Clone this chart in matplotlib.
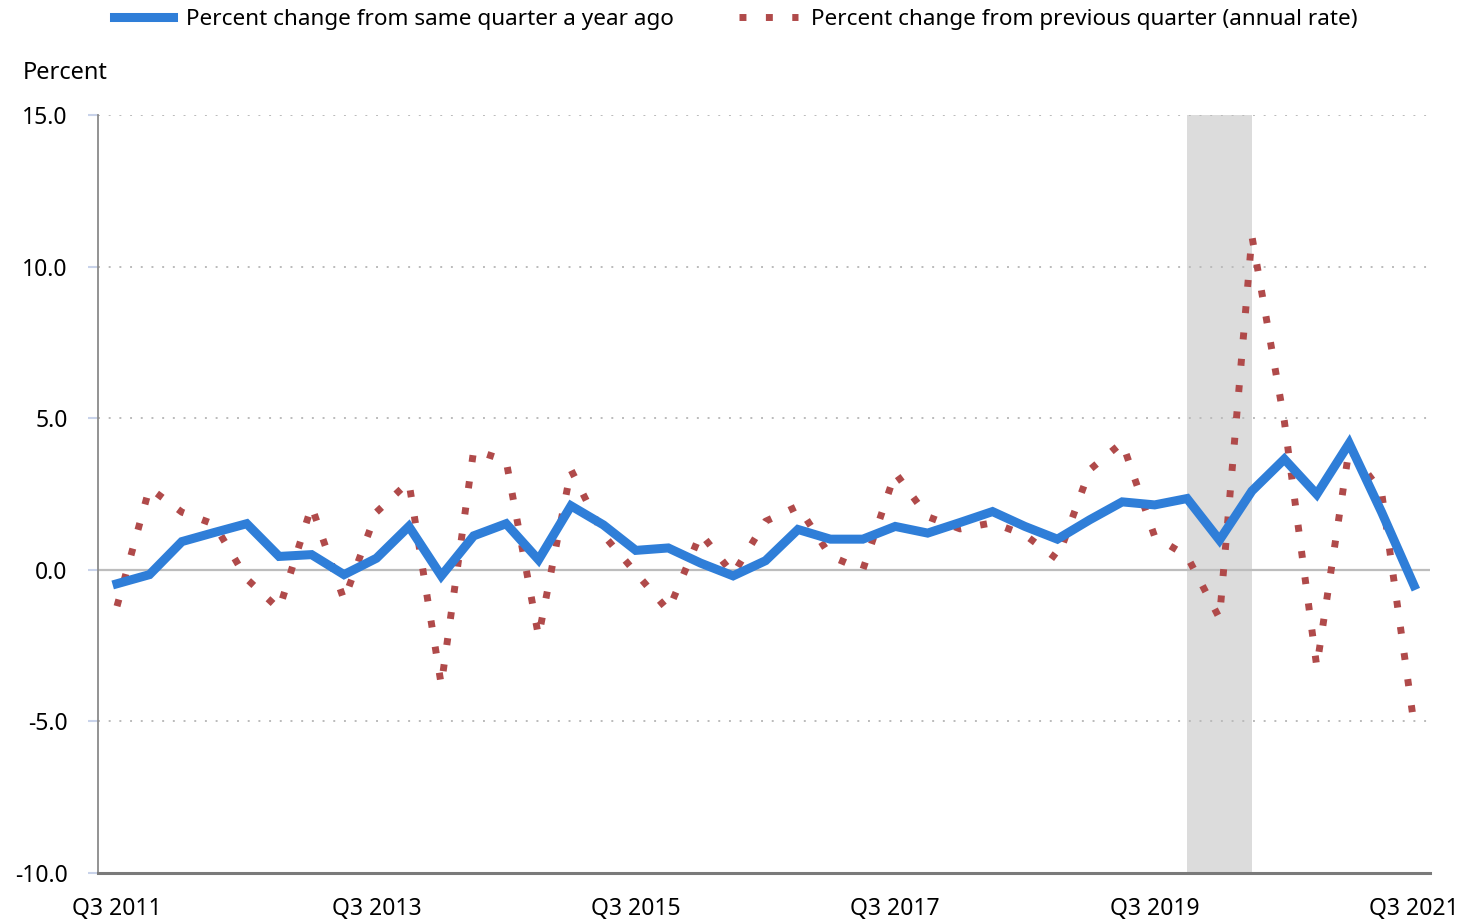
import numpy as np
import matplotlib as mlp
mlp.use('Agg')
import matplotlib.pyplot as plt

mlp.rcParams['font.family'] = ['Noto Sans', 'DejaVu Sans']

# quarters Q3 2011 .. Q3 2021
quarters = ['Q%d %d' % ((q % 4) + 1, 2011 + q // 4) for q in range(2, 43)]
yoy = [-0.46, -0.16, 0.93, 1.23, 1.52, 0.44, 0.50, -0.16, 0.38, 1.43,
       -0.20, 1.12, 1.52, 0.33, 2.11, 1.48, 0.64, 0.72, 0.22, -0.20,
       0.30, 1.33, 1.01, 1.01, 1.43, 1.21, 1.56, 1.92, 1.43, 1.01,
       1.65, 2.24, 2.14, 2.35, 0.98, 2.60, 3.65, 2.49, 4.17, 1.90, -0.52]
qoq = [-1.2, 2.7, 1.9, 1.5, -0.3, -1.3, 2.1, -1.0, 1.9, 2.9,
       -3.8, 3.95, 3.6, -2.2, 3.3, 1.15, -0.1, -1.35, 1.2, -0.15,
       1.6, 2.1, 0.45, 0.0, 3.2, 1.75, 1.35, 1.55, 1.15, 0.35,
       3.3, 4.2, 1.1, 0.45, -1.6, 11.0, 4.9, -3.2, 4.0, 2.55, -5.1]
recession = ['Q4 2019', 'Q2 2020']
yticks = [15, 10, 5, 0, -5, -10]
names = ['Percent change from same quarter a year ago',
         'Percent change from previous quarter (annual rate)']

xs = np.arange(len(quarters))
blue = '#2F7ED8'
red = '#B04A4A'

fig = plt.figure(figsize=(14.63, 9.23), dpi=100)
ax = fig.add_axes([0.067, 0.0542, 0.9104, 0.8212])

r0, r1 = quarters.index(recession[0]), quarters.index(recession[1])
ax.axvspan(r0, r1, color='#DCDCDC', lw=0, zorder=0)

for y in yticks:
    if y == 0:
        ax.axhline(y, color='#BDBDBD', lw=1.6, zorder=1)
    elif y != -10:
        ax.axhline(y, color='#BBBBBB', lw=1.4, dashes=(1, 4.5), zorder=1)

l2, = ax.plot(xs, qoq, color=red, lw=5, dashes=(1, 2.8), dash_capstyle='butt', zorder=3)
l1, = ax.plot(xs, yoy, color=blue, lw=6.5, solid_joinstyle='miter', zorder=4)

ax.set_xlim(-0.586, 40.49)
ax.set_ylim(-10, 15)
ax.set_yticks(yticks)
ax.set_yticklabels(['%.1f' % y for y in yticks])
ax.set_xticks(xs[::8])
ax.set_xticklabels(quarters[::8])
ax.tick_params(axis='y', length=7, width=1.5, color='#C9D3EA', labelsize=16.5, pad=15)
ax.tick_params(axis='x', length=0, labelsize=16.5, pad=17)

for s in ['top', 'right']:
    ax.spines[s].set_visible(False)
ax.spines['left'].set_color('#8A8A8A')
ax.spines['left'].set_linewidth(1.3)
ax.spines['bottom'].set_color('#7A7A7A')
ax.spines['bottom'].set_linewidth(2.2)

fig.text(23/1463, 1 - 73/923, 'Percent', fontsize=17, va='center', ha='left')

fig.legend([l1, l2], names, loc='center', bbox_to_anchor=(0.503, 1 - 19/923), ncol=2,
           frameon=False, fontsize=16.2, handlelength=2.6, columnspacing=2.9, handletextpad=0.6)

fig.savefig('out.png', dpi=100)
